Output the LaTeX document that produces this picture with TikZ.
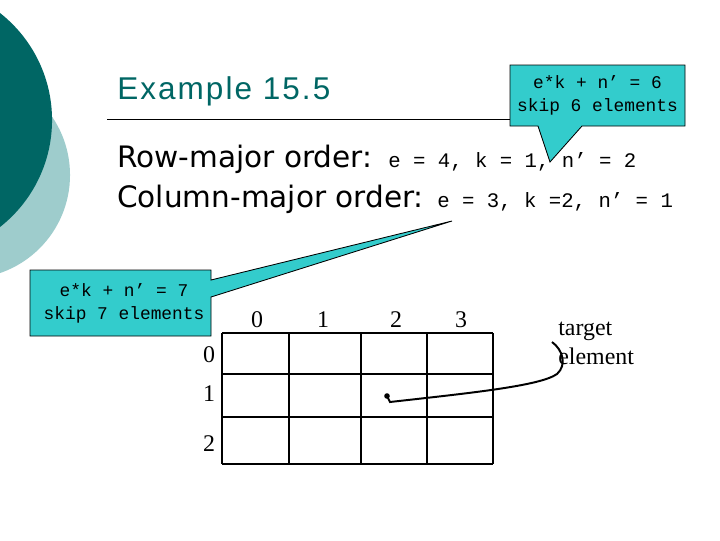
\documentclass[tikz,border=0pt]{standalone}
\usepackage{fontspec}
\setmainfont{Liberation Serif}
\setsansfont{DejaVu Sans}
\setmonofont{Liberation Mono}
\newfontfamily\titlefont[LetterSpace=6.5]{Liberation Sans}
\definecolor{darkteal}{RGB}{0,102,100}
\definecolor{paleteal}{RGB}{158,204,204}
\definecolor{callcyan}{RGB}{51,204,204}
\begin{document}
\begin{tikzpicture}[x=0.025cm, y=-0.025cm, every node/.style={inner sep=0pt},
	heading/.style={font=\sffamily\fontsize{21}{25}\selectfont, anchor=base west},
	code/.style={font=\ttfamily\fontsize{14.7}{17}\selectfont, anchor=base west},
	note/.style={font=\ttfamily\fontsize{12.7}{16.3}\selectfont, align=center},
	bubble/.style={draw=black, line width=0.6pt, fill=callcyan},
	idx/.style={font=\fontsize{17}{20}\selectfont}]
	\useasboundingbox (0,0) rectangle (720,540);
	\fill[paleteal] (-33.6,175) circle[radius=2.59cm];
	\fill[darkteal] (-84,120) circle[radius=3.4cm];
	\node[font=\titlefont\fontsize{22.4}{27}\selectfont, text=darkteal, anchor=base west] (title) at (117,99.5) {Example 15.5};
	\draw[line width=1.4pt] (107,119.5) -- (515,119.5);
	\node[heading] (row) at (117,167) {Row-major order:};
	\node[code] (rowval) at (388,167) {e = 4, k = 1, n’ = 2};
	\node[heading] (col) at (117,207) {Column-major order:};
	\node[code] (colval) at (437,207) {e = 3, k =2, n’ = 1};
	\draw[bubble] (510,65) -- (685,65) -- (685,126) -- (582,126) -- (550,162) -- (538,126) -- (510,126) -- cycle;
	\node[note] (note6) at (597.5,95) {e*k + n’ = 6\\skip 6 elements};
	\draw[bubble] (30,270) -- (211,270) -- (211,280) -- (452,221) -- (211,297) -- (211,336) -- (30,336) -- cycle;
	\node[note] (note7) at (124,303) {e*k + n’ = 7\\skip 7 elements};
	\foreach \x in {222,289,361,427,493} {\draw[line width=0.8pt] (\x,333) -- (\x,464);}
	\foreach \y in {333,374,417,464} {\draw[line width=0.8pt] (222,\y) -- (493,\y);}
	\foreach \x/\k in {257/0,323/1,396/2,461/3} {\node[idx] (c\k) at (\x,320) {\k};}
	\foreach \y/\k in {355/0,394/1,444/2} {\node[idx] (r\k) at (209,\y) {\k};}
	\node[idx, anchor=base west] (lab1) at (558,335) {target};
	\node[idx, anchor=base west] (lab2) at (558,364) {element};
	\coordinate (tgt) at (387,396);
	\coordinate (hook) at (552,342);
	\fill (tgt) circle[radius=0.07cm];
	\draw[line width=1.4pt] (tgt) -- (390,402) .. controls (470,393) and (540,386) .. (557,374) .. controls (567,365) and (563,350) .. (hook);
\end{tikzpicture}
\end{document}
